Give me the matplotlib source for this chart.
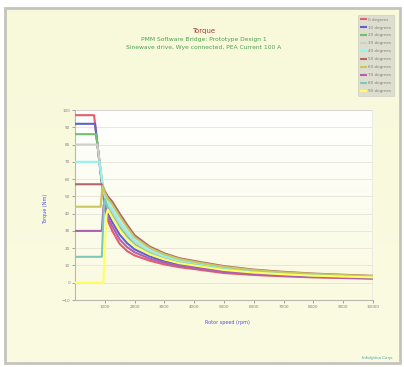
import numpy as np
import matplotlib
matplotlib.use("Agg")
import matplotlib.pyplot as plt
from matplotlib.patches import Rectangle

# -------------------- DATA --------------------
labels = ["0 degrees", "10 degrees", "20 degrees", "30 degrees", "40 degrees",
          "50 degrees", "60 degrees", "70 degrees", "80 degrees", "90 degrees"]
colors = ["#E06070", "#6060D0", "#70C070", "#D0D0C8", "#90F4F0",
          "#B06868", "#C8C860", "#B060B0", "#80C8B8", "#FFFF60"]

# low speed part (flat region + knee), rpm / Nm
low_speed = [
    [0, 640, 700, 800, 900],
    [0, 672, 800, 900],
    [0, 711, 800, 900],
    [0, 750, 820, 900],
    [0, 814, 900],
    [0, 898],
    [0, 860, 920],
    [0, 900, 960],
    [0, 900, 960],
    [0, 950, 1060],
]
low_torque = [
    [97, 97, 88, 73, 57],
    [92, 92, 73, 58],
    [86, 86, 73, 59],
    [80, 80, 71, 60],
    [70, 70, 60],
    [57, 57],
    [44, 44, 56],
    [30, 30, 45],
    [15, 15, 40],
    [0, 0, 40],
]

# high speed part, common speed grid
high_speed = [1000, 1100, 1250, 1500, 1750, 2000, 2500, 3000, 3500, 4000,
              5000, 6000, 7000, 8000, 9000, 10000]
high_torque = [
    [44.0, 36.0, 30.0, 22.5, 18.3, 15.8, 12.8, 10.6, 9.0, 7.9, 5.6, 4.5, 3.7, 3.1, 2.7, 2.3],
    [46.7, 40.2, 35.1, 27.8, 22.9, 19.3, 15.3, 12.5, 10.6, 9.3, 6.8, 5.4, 4.5, 3.8, 3.3, 2.8],
    [49.0, 43.7, 39.4, 32.1, 26.7, 22.2, 17.3, 14.1, 11.9, 10.5, 7.8, 6.2, 5.1, 4.3, 3.7, 3.2],
    [49.9, 45.1, 41.1, 33.9, 28.2, 23.4, 18.1, 14.8, 12.4, 11.0, 8.2, 6.5, 5.4, 4.5, 3.9, 3.4],
    [50.8, 46.5, 42.8, 35.6, 29.7, 24.6, 19.0, 15.4, 12.9, 11.4, 8.6, 6.8, 5.7, 4.8, 4.1, 3.6],
    [53.0, 50.0, 47.0, 40.0, 33.5, 27.5, 21.0, 17.0, 14.2, 12.6, 9.6, 7.6, 6.3, 5.3, 4.6, 4.0],
    [52.1, 48.6, 45.3, 38.3, 32.0, 26.3, 20.2, 16.4, 13.7, 12.1, 9.2, 7.3, 6.0, 5.1, 4.4, 3.8],
    [45.4, 38.1, 32.6, 25.1, 20.6, 17.6, 14.0, 11.6, 9.8, 8.6, 6.2, 5.0, 4.1, 3.4, 3.0, 2.6],
    [48.5, 43.0, 38.5, 31.3, 25.9, 21.7, 16.9, 13.8, 11.6, 10.3, 7.6, 6.1, 5.0, 4.2, 3.7, 3.2],
    [None, 42.3, 37.7, 30.4, 25.1, 21.1, 16.5, 13.5, 11.3, 10.0, 7.4, 5.9, 4.9, 4.1, 3.6, 3.1],
]

x_ticks = [1000, 2000, 3000, 4000, 5000, 6000, 7000, 8000, 9000, 10000]
y_ticks = [-10, 0, 10, 20, 30, 40, 50, 60, 70, 80, 90, 100]

title = "Torque"
subtitle1 = "PMM Software Bridge: Prototype Design 1"
subtitle2 = "Sinewave drive, Wye connected, PEA Current 100 A"


def main():
    W, H = 404, 367
    fig = plt.figure(figsize=(W / 100, H / 100), dpi=100)
    fig.patch.set_facecolor("white")

    # -------------------- BACKGROUND PANEL --------------------
    bg = fig.add_axes([0, 0, 1, 1])
    bg.set_xlim(0, W)
    bg.set_ylim(H, 0)
    bg.axis("off")
    grad = np.linspace(0, 1, 256).reshape(-1, 1)
    bg.imshow(grad, extent=(6, 399, 362, 9), aspect="auto",
              cmap=matplotlib.colors.LinearSegmentedColormap.from_list(
                  "bgc", ["#F8F8DA", "#FBFBE2"]))
    bg.add_patch(Rectangle((5, 8), 395, 355, fill=False, edgecolor="#C4C4BC", lw=2))

    bg.text(204, 31, title, color="#A04040", fontsize=5, ha="center", va="center")
    bg.text(204, 40, subtitle1, color="#50A050", fontsize=4.3, ha="center", va="center")
    bg.text(204, 48, subtitle2, color="#50A050", fontsize=4.3, ha="center", va="center")
    bg.text(378, 358, "Infolytica Corp.", color="#40A0A0", fontsize=3, ha="center", va="center")

    # -------------------- PLOT AREA --------------------
    ax = fig.add_axes([75 / W, 1 - 300 / H, (373 - 75) / W, (300 - 110) / H])
    ax.set_facecolor("none")
    ax.imshow(grad, extent=(0, 10000, -10, 100), aspect="auto", zorder=0,
              cmap=matplotlib.colors.LinearSegmentedColormap.from_list(
                  "pc", ["#FFFFFF", "#FAFAE0"]))
    for y in y_ticks[1:-1]:
        ax.axhline(y, color="#E4E4D8", lw=0.6, zorder=1)

    for i in range(len(labels)):
        sp = list(low_speed[i]) + [s for s, t in zip(high_speed, high_torque[i]) if t is not None]
        tq = list(low_torque[i]) + [t for t in high_torque[i] if t is not None]
        ax.plot(sp, tq, color=colors[i], lw=1.5, label=labels[i], zorder=3)

    ax.set_xlim(0, 10000)
    ax.set_ylim(-10, 100)
    ax.set_xticks(x_ticks)
    ax.set_yticks(y_ticks)
    ax.tick_params(labelsize=3, colors="#808080", length=2, width=0.5, pad=1.5)
    for s in ["top", "right"]:
        ax.spines[s].set_visible(False)
    for s in ["left", "bottom"]:
        ax.spines[s].set_color("#B8B8B0")
    ax.axhline(100, color="#D0D0C8", lw=1.2, zorder=2)
    ax.axvline(10000, color="#E8E8E0", lw=1.2, zorder=2)

    ax.set_xlabel("Rotor speed (rpm)", color="#5050E0", fontsize=3.5)
    ax.xaxis.set_label_coords(0.51, -0.105)
    ax.set_ylabel("Torque (Nm)", color="#5050E0", fontsize=3.5)
    ax.yaxis.set_label_coords(-0.09, 0.48)

    # -------------------- LEGEND --------------------
    handles, labs = ax.get_legend_handles_labels()
    leg = fig.legend(handles, labs, loc="upper left", bbox_to_anchor=(356 / W, 1 - 13 / H),
                     fontsize=3, frameon=True, handlelength=1.2, handletextpad=0.6,
                     labelspacing=0.95, borderpad=0.6, fancybox=False)
    leg.get_frame().set_facecolor("#D8D8CC")
    leg.get_frame().set_edgecolor("#C8C8C0")
    leg.get_frame().set_linewidth(0.5)
    for t in leg.get_texts():
        t.set_color("#808080")

    output_path = "out.png"
    fig.savefig(output_path, dpi=100)
    plt.close(fig)


if __name__ == '__main__':
    main()
